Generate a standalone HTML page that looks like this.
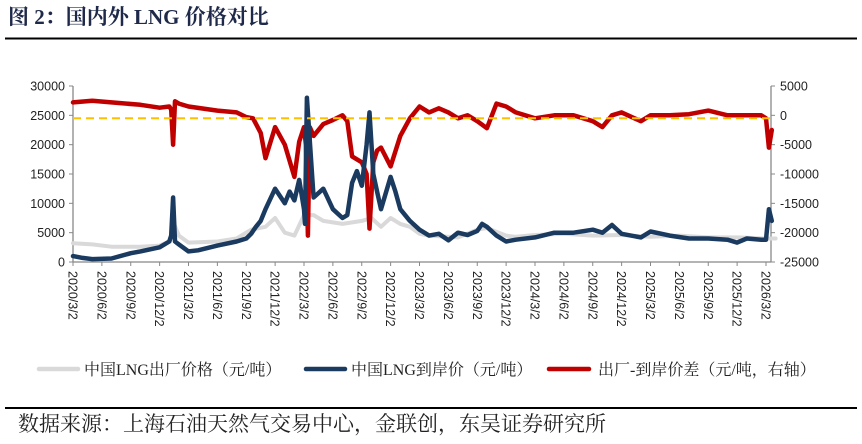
<!DOCTYPE html>
<html><head><meta charset="utf-8">
<style>
body{margin:0;background:#fff;width:862px;height:444px;overflow:hidden;}
svg{display:block;}
</style></head>
<body>
<svg id="chart" width="862" height="444" xmlns="http://www.w3.org/2000/svg">
<text x="8" y="24" font-family="Liberation Serif, Noto Serif CJK SC, serif" font-weight="bold" font-size="21" fill="#1f2a4a">图 2：国内外 LNG 价格对比</text>
<line x1="5" y1="38.5" x2="857" y2="38.5" stroke="#000" stroke-width="2"/>
<line x1="5" y1="408" x2="857" y2="408" stroke="#000" stroke-width="2"/>
<text x="18" y="431" font-family="Liberation Serif, Noto Serif CJK SC, serif" font-size="21" fill="#222">数据来源：上海石油天然气交易中心，金联创，东吴证券研究所</text>
<g id="axes"></g>
<g id="series"></g>
<g font-family="Liberation Serif, Noto Serif CJK SC, serif" font-size="16" fill="#222">
  <line x1="39" y1="369" x2="78" y2="369" stroke="#d9d9d9" stroke-width="4.5" stroke-linecap="round"/>
  <text x="84" y="375">中国LNG出厂价格（元/吨）</text>
  <line x1="306" y1="369" x2="345" y2="369" stroke="#1a3a60" stroke-width="4.5" stroke-linecap="round"/>
  <text x="351" y="375">中国LNG到岸价（元/吨）</text>
  <line x1="549" y1="369" x2="589" y2="369" stroke="#c00000" stroke-width="4.5" stroke-linecap="round"/>
  <text x="598" y="375">出厂-到岸价差（元/吨，右轴）</text>
</g>
</svg>
<script>
// months since 2020/3/2
const greyX = [0,2,4,7,9,10,10.5,11,12,15,17,18.5,20,21,22,23,24,25,26,28,30,31,32,33,34,35,36,37,40,42,43,45,46,48,51,54,57,60,63,66,69,72,73];
const greyY = [3200,3000,2600,2600,2800,3500,6500,4500,3300,3500,4000,5500,6000,7500,5000,4500,8000,8000,7000,6500,7000,7500,6000,7500,6500,6000,4800,4500,4200,5500,5800,4500,4300,4600,4800,4500,4600,4300,4500,4200,4200,4000,4000];
const blueX = [0,1,2,4,6,7,9,10,10.2,10.4,10.6,11,12,13,15,17,18,18.5,19,19.5,20,21,22,22.5,23,23.5,24,24.1,24.3,25,26,27,28,28.5,29,29.5,30,30.5,30.8,31.2,31.6,32,33,33.5,34,35,36,37,38,39,40,41,42,42.5,43,44,45,46,48,50,52,54,55,56,57,59,60,62,64,66,68,69,70,71.5,72,72.3,72.6];
const blueY = [1000,700,500,600,1500,1800,2500,3500,4500,11000,3500,3000,1800,2000,2800,3500,4000,4800,6000,7000,9000,12500,10000,12000,10500,14000,9000,6500,28000,11000,12500,9000,7500,8000,13500,15500,13000,20000,25500,15000,12000,9000,14500,12000,9000,7000,5500,4500,4800,3700,5000,4600,5300,6500,6000,4500,3500,3800,4200,5000,5000,5500,5000,6300,4800,4200,5200,4500,4000,4000,3800,3300,4000,3800,3800,9000,7000];
const redX = [0,2,4,7,9,10,10.2,10.4,10.6,11,12,15,17,18,18.7,19.5,20,21,22,23,23.5,24,24.2,24.4,24.6,25,26,27,28,28.5,29,30,30.5,30.8,31.2,31.6,32,33,34,35,36,37,38,39,40,41,42,43,44,45,46,48,50,52,54,55,56,57,59,60,62,64,66,68,70,71.5,72,72.3,72.6];
const redY = [2200,2500,2200,1800,1300,1500,1000,-5000,2400,2000,1500,800,500,-300,-500,-3000,-7300,-2000,-5000,-10500,-4500,-2000,-5000,-20500,-2000,-3500,-1500,-800,0,-1000,-7000,-8000,-10000,-19300,-8000,-6000,-5500,-8700,-3500,-500,1500,500,1200,500,-500,0,-1000,-2200,2000,1500,500,-500,0,0,-1000,-2000,0,500,-1000,0,0,200,800,0,0,0,-500,-5500,-2500];
const leftTicks = [0,5000,10000,15000,20000,25000,30000];
const rightTicks = [-25000,-20000,-15000,-10000,-5000,0,5000];
const xTickLabels = ['2020/3/2','2020/6/2','2020/9/2','2020/12/2','2021/3/2','2021/6/2','2021/9/2','2021/12/2','2022/3/2','2022/6/2','2022/9/2','2022/12/2','2023/3/2','2023/6/2','2023/9/2','2023/12/2','2024/3/2','2024/6/2','2024/9/2','2024/12/2','2025/3/2','2025/6/2','2025/9/2','2025/12/2','2026/3/2'];
const refLine = -500;

const NS='http://www.w3.org/2000/svg';
const X0=73, X1=771, Y0=262, Y1=86;
const xs = m => X0 + m*(766-73)/72;
const yL = v => Y0 - (v/30000)*(Y0-Y1);
const yR = v => Y0 - ((v+25000)/30000)*(Y0-Y1);
function mk(tag, attrs, parent){const e=document.createElementNS(NS,tag);for(const k in attrs)e.setAttribute(k,attrs[k]);parent.appendChild(e);return e;}
const ax=document.getElementById('axes'), sr=document.getElementById('series');
const F='Liberation Sans, sans-serif';
let l=mk('line',{x1:X0,y1:Y1,x2:X0,y2:Y0,stroke:'#888','stroke-width':1.3},ax);


l=mk('line',{x1:X1,y1:Y1,x2:X1,y2:Y0,stroke:'#888','stroke-width':1.3},ax);


l=mk('line',{x1:X0,y1:Y0,x2:X1,y2:Y0,stroke:'#888','stroke-width':1.3},ax);


leftTicks.forEach(v=>{
  const y=yL(v);
  const t=mk('line',{x1:X0-4,y1:y,x2:X0,y2:y,stroke:'#888'},ax);
  
  
  const tx=mk('text',{x:X0-8,y:y+4.5,'text-anchor':'end','font-family':F,'font-size':12.5,fill:'#222'},ax);
  tx.textContent=v;
  
  
});
rightTicks.forEach(v=>{
  const y=yR(v);
  const t=mk('line',{x1:X1,y1:y,x2:X1+4,y2:y,stroke:'#888'},ax);
  
  
  const tx=mk('text',{x:X1+9,y:y+4.5,'text-anchor':'start','font-family':F,'font-size':12.5,fill:'#222'},ax);
  tx.textContent=v;
  
  
});
xTickLabels.forEach((s,i)=>{
  const x=xs(i*3);
  const t=mk('line',{x1:x,y1:Y0,x2:x,y2:Y0+4,stroke:'#888'},ax);
  
  
  const tx=mk('text',{x:0,y:0,transform:`translate(${x-4.5},${Y0+9}) rotate(90)`,'font-family':F,'font-size':12.5,fill:'#222'},ax);
  tx.textContent=s;
  
  
});
function path(X,Y,f,color,w,name){
  const d=X.map((m,i)=>(i?'L':'M')+xs(m).toFixed(1)+','+f(Y[i]).toFixed(1)).join('');
  const p=mk('path',{d:d,fill:'none',stroke:color,'stroke-width':w,'stroke-linejoin':'round','stroke-linecap':'round'},sr);
  
  
}
path(greyX,greyY,yL,'#d9d9d9',4,'grey-ex-factory-line');
path(redX,redY,yR,'#c00000',4.5,'red-spread-line');
path(blueX,blueY,yL,'#1a3a60',4.5,'blue-landed-line');
const rl=mk('line',{x1:X0,y1:yR(refLine),x2:X1,y2:yR(refLine),stroke:'#ffc000','stroke-width':2,'stroke-dasharray':'8,5'},sr);


</script>
</body></html>
